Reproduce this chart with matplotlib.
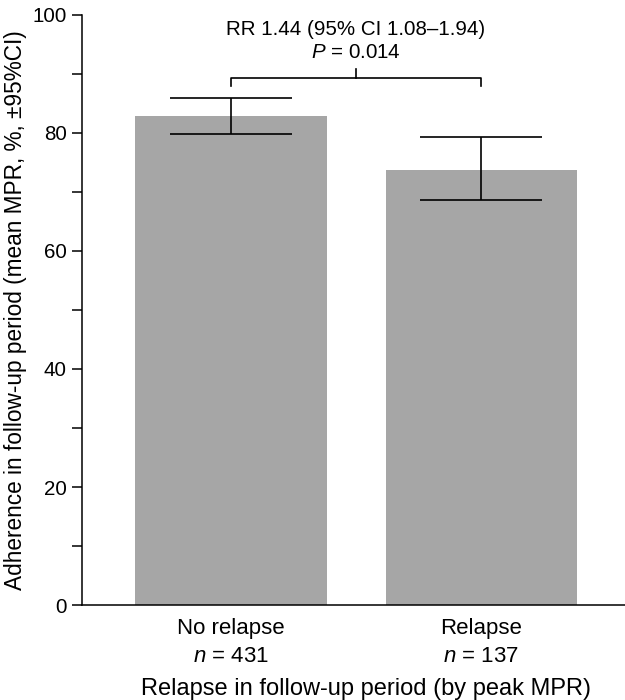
import matplotlib
matplotlib.use("Agg")
import matplotlib.pyplot as plt
from matplotlib.ticker import MultipleLocator

plt.rcParams['font.family'] = ['Liberation Sans', 'DejaVu Sans']
plt.rcParams['mathtext.fontset'] = 'custom'
plt.rcParams['mathtext.rm'] = 'Liberation Sans'
plt.rcParams['mathtext.it'] = 'Liberation Sans:italic'

# data
groups = ['No relapse', 'Relapse']
group_n = [431, 137]
mean_mpr = [82.9, 73.8]
ci_low = [79.8, 68.6]
ci_high = [86.0, 79.3]
rr_text = 'RR 1.44 (95% CI 1.08\u20131.94)'
p_text = '$P$ = 0.014'

fig = plt.figure(figsize=(6.25, 7), dpi=100)
ax = fig.add_axes([0.1312, 0.1357, 0.8688, 0.8429])

x = list(range(len(groups)))
ax.bar(x, mean_mpr, width=0.764, color='#a6a6a6', zorder=1)

err_lo = [m - l for m, l in zip(mean_mpr, ci_low)]
err_hi = [h - m for m, h in zip(mean_mpr, ci_high)]
ax.errorbar(x, mean_mpr, yerr=[err_lo, err_hi], fmt='none', ecolor='black',
            elinewidth=1.2, capsize=44, capthick=1.2, zorder=2)

# significance bracket
yb = 89.3
ax.plot([x[0], x[0], x[1], x[1]], [yb - 1.4, yb, yb, yb - 1.4], color='black', lw=1.2, clip_on=False)
xm = (x[0] + x[1]) / 2
ax.plot([xm, xm], [yb, yb + 1.5], color='black', lw=1.2, clip_on=False)
ax.text(xm, 97.6, rr_text, ha='center', va='center', fontsize=14.8)
ax.text(xm, 93.6, p_text, ha='center', va='center', fontsize=14.8)

ax.set_xlim(-0.596, 1.576)
ax.set_ylim(0, 100)
ax.yaxis.set_major_locator(MultipleLocator(20))
ax.yaxis.set_minor_locator(MultipleLocator(10))
ax.tick_params(axis='y', which='both', direction='out', length=7, width=1.1, labelsize=14.8, pad=4)
ax.tick_params(axis='x', length=0, labelsize=16, pad=9)
ax.set_xticks(x)
ax.set_xticklabels([f'{g}\n$n$ = {n}' for g, n in zip(groups, group_n)], linespacing=1.45)

ax.spines['top'].set_visible(False)
ax.spines['right'].set_visible(False)
ax.spines['left'].set_linewidth(1.1)
ax.spines['bottom'].set_linewidth(1.1)

ax.set_ylabel('Adherence in follow-up period (mean MPR, %, \u00b195%CI)', fontsize=16.3, labelpad=4)
ax.set_xlabel('Relapse in follow-up period (by peak MPR)', fontsize=17)
ax.xaxis.set_label_coords(0.523, -0.124)

fig.savefig('out.png', dpi=100)
